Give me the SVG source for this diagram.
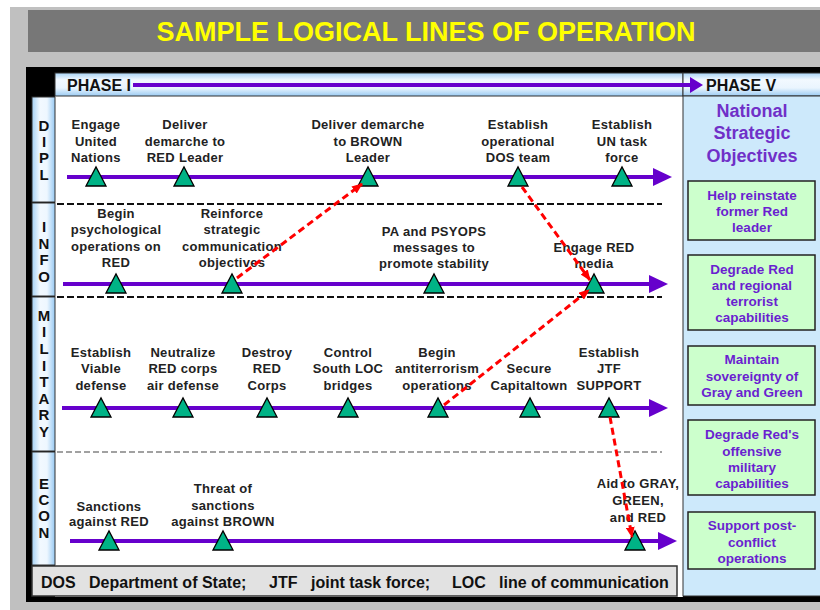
<svg xmlns="http://www.w3.org/2000/svg" xmlns:xlink="http://www.w3.org/1999/xlink" width="820" height="610" viewBox="0 0 820 610">
  <style>
    text { font-family: "Liberation Sans", Arial, Helvetica, sans-serif; font-weight: bold; }
    .title { font-size: 27px; fill: #ffff00; text-anchor: middle; }
    .phase { font-size: 16px; fill: #111; }
    .vlab { font-size: 15px; fill: #111; text-anchor: middle; }
    .ms { font-size: 13px; fill: #222; text-anchor: middle; letter-spacing: 0.3px; }
    .tri { fill: #00b386; stroke: #000; stroke-width: 1.3; }
    .lane { stroke: #6600cc; stroke-width: 4; fill: none; }
    .head { fill: #6600cc; }
    .div1 { stroke: #111; stroke-width: 2; stroke-dasharray: 7 3; }
    .div2 { stroke: #444; stroke-width: 1.2; stroke-dasharray: 6 3; }
    .link { stroke: #ff0000; stroke-width: 3; stroke-dasharray: 7 4; fill: none; }
    .obj rect { fill: #ccffcc; stroke: #222; stroke-width: 1.5; }
    .obj text { font-size: 13.5px; fill: #6a1fd0; text-anchor: middle; }
    .nso { font-size: 18px; fill: #7030c8; text-anchor: middle; }
    .legend { font-size: 16px; fill: #111; }
    .cell { stroke: #333; stroke-width: 1; }
  </style>
  <defs>
    <linearGradient id="hdrGrad" x1="0" y1="0" x2="0" y2="1">
      <stop offset="0" stop-color="#a9d4f6"/>
      <stop offset="0.3" stop-color="#f2f9ff"/>
      <stop offset="0.65" stop-color="#eaf5fe"/>
      <stop offset="1" stop-color="#9bcbf2"/>
    </linearGradient>
    <linearGradient id="colGrad" x1="0" y1="0" x2="1" y2="0">
      <stop offset="0" stop-color="#a6d2f5"/>
      <stop offset="0.35" stop-color="#f2f9ff"/>
      <stop offset="0.65" stop-color="#eef7ff"/>
      <stop offset="1" stop-color="#97c9f2"/>
    </linearGradient>
    <path id="tri" d="M-10,9 L0,-10 L10,9 Z"/>
    <marker id="redHead" viewBox="0 0 10 8" refX="9" refY="4" markerWidth="11" markerHeight="9" markerUnits="userSpaceOnUse" orient="auto">
      <path d="M0,0 L10,4 L0,8 Z" fill="#ff0000"/>
    </marker>
  </defs>

  <!-- page background -->
  <rect x="0" y="0" width="820" height="610" fill="#ffffff"/>
  <rect x="10" y="7" width="810" height="603" fill="#c0c0c0"/>

  <!-- title bar -->
  <g id="title">
    <rect x="28" y="10" width="792" height="42" fill="#777777"/>
    <text class="title" x="426" y="41">SAMPLE LOGICAL LINES OF OPERATION</text>
  </g>

  <!-- outer frame and working area -->
  <g id="frame">
    <rect x="26" y="67" width="800" height="535" fill="#000000"/>
    <rect x="55" y="96" width="628" height="501" fill="#ffffff"/>
  </g>

  <!-- phase header -->
  <g id="phase-header">
    <rect class="cell" x="55" y="73" width="628" height="23" fill="url(#hdrGrad)"/>
    <rect class="cell" x="683" y="73" width="140" height="23" fill="url(#hdrGrad)"/>
    <text class="phase" x="67" y="91">PHASE I</text>
    <line class="lane" x1="133" y1="85" x2="692" y2="85"/>
    <polygon class="head" points="690,77 703,85 690,93"/>
    <text class="phase" x="706" y="91">PHASE V</text>
  </g>

  <!-- lane labels -->
  <g id="lane-dipl">
    <rect class="cell" x="32" y="97" width="23" height="105" fill="url(#colGrad)"/>
    <text class="vlab" x="44" y="130.5">D</text>
    <text class="vlab" x="44" y="146.5">I</text>
    <text class="vlab" x="44" y="163">P</text>
    <text class="vlab" x="44" y="179.5">L</text>
  </g>
  <g id="lane-info">
    <rect class="cell" x="32" y="203" width="23" height="93" fill="url(#colGrad)"/>
    <text class="vlab" x="44" y="231.5">I</text>
    <text class="vlab" x="44" y="248.5">N</text>
    <text class="vlab" x="44" y="265">F</text>
    <text class="vlab" x="44" y="282">O</text>
  </g>
  <g id="lane-military">
    <rect class="cell" x="32" y="297" width="23" height="154" fill="url(#colGrad)"/>
    <text class="vlab" x="44" y="320.5">M</text>
    <text class="vlab" x="44" y="337">I</text>
    <text class="vlab" x="44" y="354">L</text>
    <text class="vlab" x="44" y="370.5">I</text>
    <text class="vlab" x="44" y="387">T</text>
    <text class="vlab" x="44" y="403.5">A</text>
    <text class="vlab" x="44" y="420">R</text>
    <text class="vlab" x="44" y="437">Y</text>
  </g>
  <g id="lane-econ">
    <rect class="cell" x="32" y="452" width="23" height="113" fill="url(#colGrad)"/>
    <text class="vlab" x="44" y="488.5">E</text>
    <text class="vlab" x="44" y="504.5">C</text>
    <text class="vlab" x="44" y="521">O</text>
    <text class="vlab" x="44" y="537.5">N</text>
  </g>

  <!-- lane dividers -->
  <g id="dividers">
    <line class="div1" x1="57" y1="204" x2="662" y2="204"/>
    <line class="div1" x1="57" y1="297" x2="662" y2="297"/>
    <line class="div2" x1="57" y1="452" x2="662" y2="452"/>
  </g>

  <!-- lines of operation -->
  <g id="lines">
    <line class="lane" x1="67" y1="177" x2="656" y2="177"/>
    <polygon class="head" points="653,168 672,177 653,186"/>
    <line class="lane" x1="63" y1="284" x2="652" y2="284"/>
    <polygon class="head" points="649,275 668,284 649,293"/>
    <line class="lane" x1="62" y1="408" x2="652" y2="408"/>
    <polygon class="head" points="649,399 668,408 649,417"/>
    <line class="lane" x1="70" y1="541" x2="661" y2="541"/>
    <polygon class="head" points="658,532 677,541 658,550"/>
  </g>

  <!-- DIPL milestones -->
  <g id="dipl-1">
    <use xlink:href="#tri" class="tri" x="96" y="177"/>
    <text class="ms"><tspan x="96" y="129">Engage</tspan><tspan x="96" y="146">United</tspan><tspan x="96" y="162">Nations</tspan></text>
  </g>
  <g id="dipl-2">
    <use xlink:href="#tri" class="tri" x="184" y="177"/>
    <text class="ms"><tspan x="185" y="129">Deliver</tspan><tspan x="185" y="146">demarche to</tspan><tspan x="185" y="162">RED Leader</tspan></text>
  </g>
  <g id="dipl-3">
    <use xlink:href="#tri" class="tri" x="368" y="177"/>
    <text class="ms"><tspan x="368" y="129">Deliver demarche</tspan><tspan x="368" y="146">to BROWN</tspan><tspan x="368" y="162">Leader</tspan></text>
  </g>
  <g id="dipl-4">
    <use xlink:href="#tri" class="tri" x="518" y="177"/>
    <text class="ms"><tspan x="518" y="129">Establish</tspan><tspan x="518" y="146">operational</tspan><tspan x="518" y="162">DOS team</tspan></text>
  </g>
  <g id="dipl-5">
    <use xlink:href="#tri" class="tri" x="622" y="177"/>
    <text class="ms"><tspan x="622" y="129">Establish</tspan><tspan x="622" y="146">UN task</tspan><tspan x="622" y="162">force</tspan></text>
  </g>

  <!-- INFO milestones -->
  <g id="info-1">
    <use xlink:href="#tri" class="tri" x="116" y="284"/>
    <text class="ms"><tspan x="116" y="217.5">Begin</tspan><tspan x="116" y="234">psychological</tspan><tspan x="116" y="250.5">operations on</tspan><tspan x="116" y="267">RED</tspan></text>
  </g>
  <g id="info-2">
    <use xlink:href="#tri" class="tri" x="232" y="284"/>
    <text class="ms"><tspan x="232" y="217.5">Reinforce</tspan><tspan x="232" y="234">strategic</tspan><tspan x="232" y="250.5">communication</tspan><tspan x="232" y="267">objectives</tspan></text>
  </g>
  <g id="info-3">
    <use xlink:href="#tri" class="tri" x="434" y="284"/>
    <text class="ms"><tspan x="434" y="235.5">PA and PSYOPS</tspan><tspan x="434" y="251.5">messages to</tspan><tspan x="434" y="267.5">promote stability</tspan></text>
  </g>
  <g id="info-4">
    <use xlink:href="#tri" class="tri" x="594" y="284"/>
    <text class="ms"><tspan x="594" y="251.5">Engage RED</tspan><tspan x="594" y="267.5">media</tspan></text>
  </g>

  <!-- MILITARY milestones -->
  <g id="mil-1">
    <use xlink:href="#tri" class="tri" x="101" y="408"/>
    <text class="ms"><tspan x="101" y="356.5">Establish</tspan><tspan x="101" y="373">Viable</tspan><tspan x="101" y="389.5">defense</tspan></text>
  </g>
  <g id="mil-2">
    <use xlink:href="#tri" class="tri" x="183" y="408"/>
    <text class="ms"><tspan x="183" y="356.5">Neutralize</tspan><tspan x="183" y="373">RED corps</tspan><tspan x="183" y="389.5">air defense</tspan></text>
  </g>
  <g id="mil-3">
    <use xlink:href="#tri" class="tri" x="267" y="408"/>
    <text class="ms"><tspan x="267" y="356.5">Destroy</tspan><tspan x="267" y="373">RED</tspan><tspan x="267" y="389.5">Corps</tspan></text>
  </g>
  <g id="mil-4">
    <use xlink:href="#tri" class="tri" x="348" y="408"/>
    <text class="ms"><tspan x="348" y="356.5">Control</tspan><tspan x="348" y="373">South LOC</tspan><tspan x="348" y="389.5">bridges</tspan></text>
  </g>
  <g id="mil-5">
    <use xlink:href="#tri" class="tri" x="438" y="408"/>
    <text class="ms"><tspan x="437" y="356.5">Begin</tspan><tspan x="437" y="373">antiterrorism</tspan><tspan x="437" y="389.5">operations</tspan></text>
  </g>
  <g id="mil-6">
    <use xlink:href="#tri" class="tri" x="530" y="408"/>
    <text class="ms"><tspan x="529" y="373">Secure</tspan><tspan x="529" y="389.5">Capitaltown</tspan></text>
  </g>
  <g id="mil-7">
    <use xlink:href="#tri" class="tri" x="609" y="408"/>
    <text class="ms"><tspan x="609" y="356.5">Establish</tspan><tspan x="609" y="373">JTF</tspan><tspan x="609" y="389.5">SUPPORT</tspan></text>
  </g>

  <!-- ECON milestones -->
  <g id="econ-1">
    <use xlink:href="#tri" class="tri" x="109" y="541"/>
    <text class="ms"><tspan x="109" y="510.5">Sanctions</tspan><tspan x="109" y="526">against RED</tspan></text>
  </g>
  <g id="econ-2">
    <use xlink:href="#tri" class="tri" x="223" y="541"/>
    <text class="ms"><tspan x="223" y="493">Threat of</tspan><tspan x="223" y="509.5">sanctions</tspan><tspan x="223" y="526">against BROWN</tspan></text>
  </g>
  <g id="econ-3">
    <use xlink:href="#tri" class="tri" x="635" y="541"/>
    <text class="ms"><tspan x="638" y="488">Aid to GRAY,</tspan><tspan x="638" y="505">GREEN,</tspan><tspan x="638" y="521.5">and RED</tspan></text>
  </g>

  <!-- dependencies between milestones -->
  <g id="connectors">
    <line class="link" x1="237" y1="278" x2="362" y2="184" marker-end="url(#redHead)"/>
    <line class="link" x1="522" y1="187" x2="590" y2="280" marker-end="url(#redHead)"/>
    <line class="link" x1="444" y1="405" x2="589" y2="290" marker-end="url(#redHead)"/>
    <line class="link" x1="610" y1="417" x2="632" y2="537" marker-end="url(#redHead)"/>
  </g>

  <!-- national strategic objectives -->
  <g id="objectives-panel">
    <rect x="683" y="96" width="140" height="500" fill="#cde9fb" stroke="#333" stroke-width="1"/>
    <text class="nso"><tspan x="752" y="116.5">National</tspan><tspan x="752" y="138.5">Strategic</tspan><tspan x="752" y="161.5">Objectives</tspan></text>
  </g>
  <g id="obj-1" class="obj">
    <rect x="688" y="181" width="127" height="59"/>
    <text><tspan x="752" y="200">Help reinstate</tspan><tspan x="752" y="216">former Red</tspan><tspan x="752" y="232">leader</tspan></text>
  </g>
  <g id="obj-2" class="obj">
    <rect x="688" y="255" width="127" height="75"/>
    <text><tspan x="752" y="274">Degrade Red</tspan><tspan x="752" y="290">and regional</tspan><tspan x="752" y="306">terrorist</tspan><tspan x="752" y="322">capabilities</tspan></text>
  </g>
  <g id="obj-3" class="obj">
    <rect x="688" y="346" width="127" height="59"/>
    <text><tspan x="752" y="364">Maintain</tspan><tspan x="752" y="381">sovereignty of</tspan><tspan x="752" y="397">Gray and Green</tspan></text>
  </g>
  <g id="obj-4" class="obj">
    <rect x="688" y="420" width="127" height="75"/>
    <text><tspan x="752" y="439">Degrade Red's</tspan><tspan x="752" y="455.5">offensive</tspan><tspan x="752" y="472">military</tspan><tspan x="752" y="488">capabilities</tspan></text>
  </g>
  <g id="obj-5" class="obj">
    <rect x="688" y="512" width="127" height="57"/>
    <text><tspan x="752" y="530">Support post-</tspan><tspan x="752" y="547">conflict</tspan><tspan x="752" y="563">operations</tspan></text>
  </g>

  <!-- abbreviations -->
  <g id="legend">
    <rect x="32" y="566" width="645" height="30" fill="#e2e2e2" stroke="#333" stroke-width="1.5"/>
    <text class="legend" x="41" y="588">DOS</text>
    <text class="legend" x="89" y="588">Department of State;</text>
    <text class="legend" x="269" y="588">JTF</text>
    <text class="legend" x="311" y="588">joint task force;</text>
    <text class="legend" x="452" y="588">LOC</text>
    <text class="legend" x="499" y="588">line of communication</text>
  </g>
</svg>
